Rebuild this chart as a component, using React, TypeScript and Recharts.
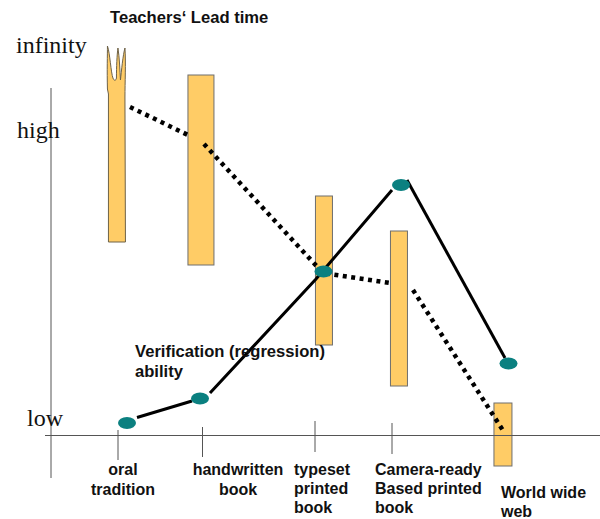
import React from 'react';
import { ComposedChart, Bar, Line, XAxis, YAxis, ReferenceLine, ReferenceDot } from 'recharts';

const W = 600;
const H = 519;

// Horizontal position of each era, and lead-time span (height above the baseline)
const eraX = [117, 201, 324, 399, 503];
const leadLow = [194, 171, 91, 50, -30];
const leadHigh = [391, 361, 240, 205, 33];
const barWidths = [17, 26, 17, 17, 18];

const barData = eraX.map((x, i) => ({ x, range: [leadLow[i], leadHigh[i]] }));

// Verification ability markers
const verifyX = [127, 200, 323.5, 401, 508.5];
const verifyY = [13, 37.5, 164.5, 251, 72.5];

// Verification ability line pieces
const solidA = [{ x: 137, y: 18.5 }, { x: 192, y: 35 }];
const solidB = [{ x: 210, y: 43 }, { x: 316, y: 157 }, { x: 392, y: 246 }];
const solidC = [{ x: 407, y: 256 }, { x: 505, y: 78 }];

// Teachers' lead time line pieces
const dottedA = [{ x: 130, y: 329 }, { x: 190, y: 300 }];
const dottedB = [{ x: 204, y: 292 }, { x: 323, y: 163 }, { x: 390, y: 153 }];
const dottedC = [{ x: 413, y: 146 }, { x: 504, y: 4 }];

// Axes and tick marks
const tickX = [118, 202.5, 315, 392];
const tickTop = [6, 9, 15, 13];
const tickBottom = [-24, -21, -16, -18];

// Text
const serifLabels = ['infinity', 'high', 'low'];
const serifX = [16, 17, 27];
const serifY = [383, 298, 10];

const wideTexts = ['Teachers‘ Lead time', 'Verification (regression)', 'ability'];
const wideX = [110, 135, 135];
const wideY = [413, 79, 59];

const noteTexts = [
  'typeset', 'printed', 'book',
  'Camera-ready', 'Based printed', 'book',
  'World wide', 'web',
];
const noteX = [294, 294, 294, 375, 375, 375, 501, 501];
const noteY = [-39, -58, -77, -39, -58, -77, -62, -81];

const centerTexts = ['oral', 'tradition', 'handwritten', 'book'];
const centerX = [123, 123, 238, 238];
const centerY = [-39, -59, -39, -59];

const AXIS_COLOR = '#555555';
const FILL = '#FFCC66';
const TEAL = '#0B8080';

function LeadBar(props: any) {
  const { x, y, width, height, index } = props;
  const cx = x + width / 2;
  const w = barWidths[index];
  const l = cx - w / 2;
  const r = cx + w / 2;
  if (index === 0) {
    const b = y + height;
    const d = `M${l} ${b} L${l} ${y + 49} L${l - 1} ${y + 44}
      C${l - 1.5} ${y + 25} ${l - 1} ${y + 10} ${l - 1} ${y + 1}
      C${l + 1.5} ${y + 8} ${l + 2.5} ${y + 28} ${l + 4.5} ${y + 33}
      C${l + 5.5} ${y + 36} ${l + 7.5} ${y + 36} ${l + 8} ${y + 33}
      C${l + 8} ${y + 22} ${l + 8.5} ${y + 10} ${l + 9.5} ${y + 3}
      C${l + 11} ${y + 12} ${l + 11.5} ${y + 26} ${l + 12} ${y + 35}
      C${l + 13} ${y + 26} ${l + 14.5} ${y + 10} ${l + 16.5} ${y + 3}
      C${l + 17.5} ${y + 18} ${l + 16.5} ${y + 38} ${l + 16.5} ${y + 52}
      L${r} ${b} Z`;
    return <path d={d} fill={FILL} stroke="#6E6248" strokeWidth={1} />;
  }
  return <rect x={l} y={y} width={w} height={height} fill={FILL} stroke="#6E6E6E" strokeWidth={1} />;
}

const Teal = (props: any) => (
  <ellipse cx={props.cx} cy={props.cy} rx={9} ry={6} fill={TEAL} stroke="none" />
);

const textShape = (text: string, style: any) => (props: any) => (
  <text x={props.cx} y={props.cy} {...style}>{text}</text>
);

const sansStyle = { fontFamily: 'Liberation Sans', fontWeight: 700, fontSize: 16, fill: '#111111' };
const wideStyle = { ...sansStyle, fontSize: 16.6 };
const serifStyle = { fontFamily: 'Liberation Serif', fontSize: 24, fill: '#111111' };

const hiddenLine = { stroke: 'none', fill: 'none' };

export default function App() {
  return (
    <div style={{ position: 'absolute', left: 0, top: 0, width: W, height: H, background: '#fff' }}>
      <ComposedChart width={W} height={H} data={barData} margin={{ top: 0, right: 0, bottom: 0, left: 0 }}>
        <XAxis type="number" dataKey="x" domain={[0, 600]} hide />
        <YAxis type="number" domain={[-83, 436]} hide />

        <ReferenceLine segment={[{ x: 51, y: 348 }, { x: 51, y: -42 }]} stroke={AXIS_COLOR} strokeWidth={1} />
        <ReferenceLine segment={[{ x: 45, y: 0.5 }, { x: 600, y: 0.5 }]} stroke={AXIS_COLOR} strokeWidth={1} />
        {tickX.map((x, i) => (
          <ReferenceLine key={x} segment={[{ x, y: tickTop[i] }, { x, y: tickBottom[i] }]} stroke={AXIS_COLOR} strokeWidth={1} />
        ))}

        <Bar dataKey="range" barSize={18} shape={LeadBar} isAnimationActive={false} />

        {[solidA, solidB, solidC].map((d, i) => (
          <Line key={`s${i}`} data={d} dataKey="y" stroke="#000" strokeWidth={3} dot={false} activeDot={false} legendType="none" isAnimationActive={false} />
        ))}
        {[dottedA, dottedB, dottedC].map((d, i) => (
          <Line key={`d${i}`} data={d} dataKey="y" stroke="#000" strokeWidth={4.5} strokeDasharray="4 4.5" dot={false} activeDot={false} legendType="none" isAnimationActive={false} />
        ))}

        {verifyX.map((x, i) => (
          <ReferenceDot key={`v${i}`} x={x} y={verifyY[i]} r={0} shape={Teal} {...hiddenLine} />
        ))}
        {serifLabels.map((t, i) => (
          <ReferenceDot key={t} x={serifX[i]} y={serifY[i]} r={0} shape={textShape(t, serifStyle)} {...hiddenLine} />
        ))}
        {wideTexts.map((t, i) => (
          <ReferenceDot key={`w${i}`} x={wideX[i]} y={wideY[i]} r={0} shape={textShape(t, wideStyle)} {...hiddenLine} />
        ))}
        {noteTexts.map((t, i) => (
          <ReferenceDot key={`n${i}`} x={noteX[i]} y={noteY[i]} r={0} shape={textShape(t, sansStyle)} {...hiddenLine} />
        ))}
        {centerTexts.map((t, i) => (
          <ReferenceDot key={`c${i}`} x={centerX[i]} y={centerY[i]} r={0} shape={textShape(t, { ...sansStyle, textAnchor: 'middle' })} {...hiddenLine} />
        ))}
      </ComposedChart>
    </div>
  );
}
